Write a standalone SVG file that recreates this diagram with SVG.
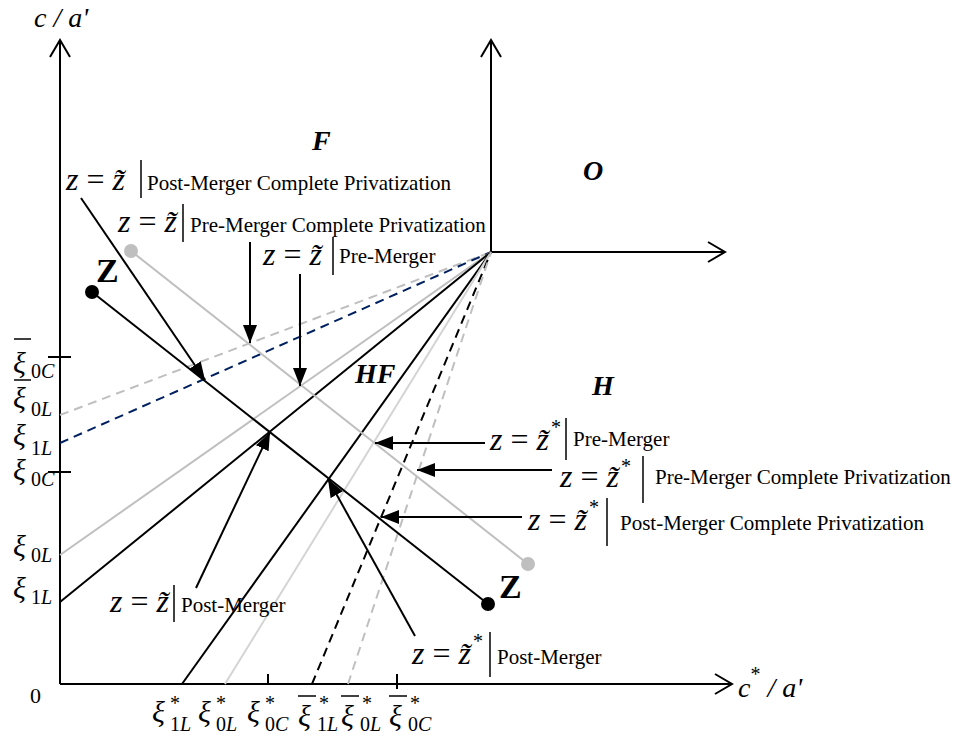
<svg xmlns="http://www.w3.org/2000/svg" width="961" height="740" viewBox="0 0 961 740">
<defs>
<marker id="fa" markerUnits="userSpaceOnUse" markerWidth="18" markerHeight="14" refX="18" refY="7" orient="auto"><path d="M0,0 L18,7 L0,14 Z" fill="#000"/></marker>
<marker id="oa" markerUnits="userSpaceOnUse" markerWidth="20" markerHeight="24" refX="18" refY="12" orient="auto"><path d="M1,2 L18,12 L1,22" fill="none" stroke="#000" stroke-width="2"/></marker>
</defs>
<style>
line{fill:none}
.ax{stroke:#000;stroke-width:2}
.bk{stroke:#000;stroke-width:2}
.gy{stroke:#bfbfbf;stroke-width:2}
.lg{stroke:#d4d4d4;stroke-width:2}
.dg{stroke:#bfbfbf;stroke-width:2;stroke-dasharray:9 6}
.dn{stroke:#002060;stroke-width:2;stroke-dasharray:9 6}
.db{stroke:#000;stroke-width:2;stroke-dasharray:9 6}
.ar{stroke:#000;stroke-width:2;marker-end:url(#fa)}
.vb{stroke:#000;stroke-width:1.5}
text{font-family:"Liberation Serif","Times New Roman",serif;fill:#000}
.m{font-size:28px;font-style:italic}
.eq{font-size:32px}
.st{font-size:20px;font-style:normal}
.t{font-size:21px}
.rg{font-size:28px;font-weight:bold;font-style:italic}
.zl{font-size:34px;font-weight:bold}
.xi{font-size:30px;font-style:italic}
.sb{font-size:20px}
.it{font-style:italic}
</style>

<g id="connectors">
  <line class="ax" x1="60" y1="684" x2="60" y2="40" marker-end="url(#oa)"/>
  <line class="ax" x1="60" y1="684" x2="732" y2="684" marker-end="url(#oa)"/>
  <line class="ax" x1="491" y1="252" x2="491" y2="40" marker-end="url(#oa)"/>
  <line class="ax" x1="491" y1="252" x2="725" y2="252" marker-end="url(#oa)"/>
  <line class="ax" x1="48" y1="357" x2="71" y2="357"/>
  <line class="ax" x1="48" y1="472" x2="71" y2="472"/>
  <line class="ax" x1="268" y1="674" x2="268" y2="685"/>
  <line class="ax" x1="397" y1="674" x2="397" y2="689"/>
  <line class="dg" x1="60" y1="415" x2="491" y2="252"/>
  <line class="dn" x1="60" y1="443" x2="491" y2="252"/>
  <line class="gy" x1="60" y1="555" x2="491" y2="252"/>
  <line class="bk" x1="60" y1="602" x2="491" y2="252"/>
  <line class="bk" x1="182" y1="684" x2="491" y2="252"/>
  <line class="lg" x1="225" y1="684" x2="491" y2="252"/>
  <line class="db" x1="312" y1="684" x2="491" y2="252"/>
  <line class="dg" x1="348" y1="684" x2="491" y2="252"/>
  <line class="gy" x1="131" y1="251" x2="528" y2="564"/>
  <line class="bk" x1="92" y1="292" x2="488" y2="604"/>
  <line class="ar" x1="81" y1="198" x2="205" y2="380"/>
  <line class="ar" x1="250" y1="242" x2="250" y2="343"/>
  <line class="ar" x1="300" y1="274" x2="300" y2="386"/>
  <line class="ar" x1="196" y1="588" x2="270" y2="432"/>
  <line class="ar" x1="415" y1="636" x2="328" y2="479"/>
  <line class="ar" x1="485" y1="443" x2="375" y2="443"/>
  <line class="ar" x1="552" y1="470" x2="417" y2="470"/>
  <line class="ar" x1="522" y1="517" x2="381" y2="517"/>
</g>

<g id="dots">
  <circle cx="131" cy="251" r="7" fill="#bfbfbf"/>
  <circle cx="528" cy="564" r="7" fill="#bfbfbf"/>
  <circle cx="92" cy="292" r="7" fill="#000"/>
  <circle cx="488" cy="604" r="7" fill="#000"/>
</g>

<g id="axis-labels">
  <text class="m" x="34" y="27">c / a'</text>
  <text class="m" x="738" y="697">c<tspan class="st" dy="-16">*</tspan><tspan dy="16"> / a'</tspan></text>
  <text x="30" y="703" style="font-size:22px">0</text>
</g>

<g id="regions">
  <text class="rg" x="312" y="150">F</text>
  <text class="rg" x="583" y="180">O</text>
  <text class="rg" x="355" y="383">HF</text>
  <text class="rg" x="592" y="395">H</text>
  <text class="zl" x="96" y="282">Z</text>
  <text class="zl" x="499" y="598">Z</text>
</g>

<g id="left-labels">
  <text class="xi" x="13" y="373">ξ</text><text class="sb" x="31" y="378">0<tspan class="it">C</tspan></text>
  <line class="vb" x1="14" y1="339" x2="31" y2="339"/>
  <text class="xi" x="13" y="408">ξ</text><text class="sb" x="31" y="416">0<tspan class="it">L</tspan></text>
  <line class="vb" x1="14" y1="380" x2="31" y2="380"/>
  <text class="xi" x="13" y="445">ξ</text><text class="sb" x="31" y="455">1<tspan class="it">L</tspan></text>
  <text class="xi" x="13" y="480">ξ</text><text class="sb" x="31" y="486">0<tspan class="it">C</tspan></text>
  <text class="xi" x="13" y="556">ξ</text><text class="sb" x="31" y="562">0<tspan class="it">L</tspan></text>
  <text class="xi" x="13" y="598">ξ</text><text class="sb" x="31" y="604">1<tspan class="it">L</tspan></text>
</g>

<g id="bottom-labels">
  <text class="xi" x="152" y="722">ξ</text><text class="st" x="170" y="710">*</text><text class="sb" x="170" y="731">1<tspan class="it">L</tspan></text>
  <text class="xi" x="198" y="722">ξ</text><text class="st" x="216" y="710">*</text><text class="sb" x="216" y="731">0<tspan class="it">L</tspan></text>
  <text class="xi" x="247" y="722">ξ</text><text class="st" x="265" y="710">*</text><text class="sb" x="265" y="731">0<tspan class="it">C</tspan></text>
  <text class="xi" x="298" y="726">ξ</text><text class="st" x="319" y="710">*</text><text class="sb" x="317" y="731">1<tspan class="it">L</tspan></text>
  <line class="vb" x1="298" y1="696" x2="316" y2="696"/>
  <text class="xi" x="341" y="726">ξ</text><text class="st" x="362" y="710">*</text><text class="sb" x="360" y="731">0<tspan class="it">L</tspan></text>
  <line class="vb" x1="341" y1="696" x2="359" y2="696"/>
  <text class="xi" x="389" y="726">ξ</text><text class="st" x="410" y="710">*</text><text class="sb" x="408" y="731">0<tspan class="it">C</tspan></text>
  <line class="vb" x1="389" y1="696" x2="407" y2="696"/>
</g>

<g id="label-post-cp">
  <text class="eq" x="66" y="190"><tspan class="it">z</tspan> = <tspan class="it">z̃</tspan></text>
  <line class="vb" x1="141" y1="160" x2="141" y2="198"/>
  <text class="t" x="147" y="190">Post-Merger Complete Privatization</text>
</g>
<g id="label-pre-cp">
  <text class="eq" x="118" y="232"><tspan class="it">z</tspan> = <tspan class="it">z̃</tspan></text>
  <line class="vb" x1="183" y1="204" x2="183" y2="242"/>
  <text class="t" x="190" y="232">Pre-Merger Complete Privatization</text>
</g>
<g id="label-pre">
  <text class="eq" x="263" y="265"><tspan class="it">z</tspan> = <tspan class="it">z̃</tspan></text>
  <line class="vb" x1="333" y1="237" x2="333" y2="275"/>
  <text class="t" x="339" y="263">Pre-Merger</text>
</g>
<g id="label-post">
  <text class="eq" x="110" y="612"><tspan class="it">z</tspan> = <tspan class="it">z̃</tspan></text>
  <line class="vb" x1="174" y1="585" x2="174" y2="622"/>
  <text class="t" x="181" y="612">Post-Merger</text>
</g>
<g id="label-star-post">
  <text class="eq" x="412" y="664"><tspan class="it">z</tspan> = <tspan class="it">z̃</tspan><tspan class="st" dx="2" dy="-16">*</tspan></text>
  <line class="vb" x1="490" y1="632" x2="490" y2="677"/>
  <text class="t" x="497" y="664">Post-Merger</text>
</g>
<g id="label-star-pre">
  <text class="eq" x="490" y="450"><tspan class="it">z</tspan> = <tspan class="it">z̃</tspan><tspan class="st" dx="2" dy="-16">*</tspan></text>
  <line class="vb" x1="566" y1="418" x2="566" y2="460"/>
  <text class="t" x="573" y="446">Pre-Merger</text>
</g>
<g id="label-star-pre-cp">
  <text class="eq" x="560" y="487"><tspan class="it">z</tspan> = <tspan class="it">z̃</tspan><tspan class="st" dx="2" dy="-14">*</tspan></text>
  <line class="vb" x1="643" y1="456" x2="643" y2="503"/>
  <text class="t" x="655" y="484">Pre-Merger Complete Privatization</text>
</g>
<g id="label-star-post-cp">
  <text class="eq" x="528" y="530"><tspan class="it">z</tspan> = <tspan class="it">z̃</tspan><tspan class="st" dx="2" dy="-16">*</tspan></text>
  <line class="vb" x1="607" y1="498" x2="607" y2="546"/>
  <text class="t" x="620" y="530">Post-Merger Complete Privatization</text>
</g>
</svg>
